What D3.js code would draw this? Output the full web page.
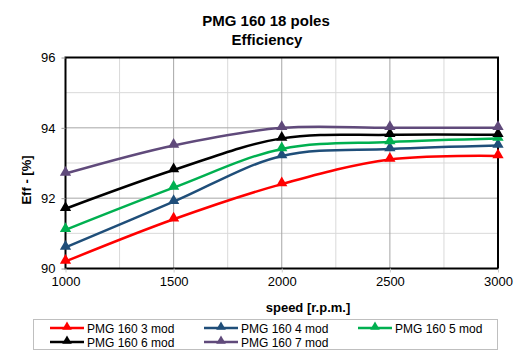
<!DOCTYPE html>
<html><head><meta charset="utf-8">
<script src="https://cdn.jsdelivr.net/npm/d3@7"></script>
<style>body{margin:0;background:#fff;}svg{display:block;font-family:"Liberation Sans",Arial,sans-serif;}</style>
</head><body>
<svg id="c" width="529" height="355"></svg>
<script>
const speeds = [1000, 1500, 2000, 2500, 3000];
const mod3 = [90.2, 91.4, 92.4, 93.1, 93.2];
const mod4 = [90.6, 91.9, 93.2, 93.4, 93.5];
const mod5 = [91.1, 92.3, 93.4, 93.6, 93.7];
const mod6 = [91.7, 92.8, 93.7, 93.8, 93.8];
const mod7 = [92.7, 93.5, 94.0, 94.0, 94.0];
const seriesNames = ["PMG 160 3 mod", "PMG 160 4 mod", "PMG 160 5 mod", "PMG 160 6 mod", "PMG 160 7 mod"];
const seriesColors = ["#FF0000", "#1F4E79", "#00B050", "#000000", "#604A7B"];
const xTicks = [1000, 1500, 2000, 2500, 3000];
const yTicks = [90, 92, 94, 96];
const titleLines = ["PMG 160 18 poles", "Efficiency"];

const series = [mod3, mod4, mod5, mod6, mod7].map((v, i) => ({name: seriesNames[i], color: seriesColors[i], values: v}));

const svg = d3.select("#c");
const L = 65.5, R = 498, T = 57.5, B = 268.5;
const x = d3.scaleLinear().domain([1000, 3000]).range([L, R]);
const y = d3.scaleLinear().domain([90, 96]).range([B, T]);

// grid minor
const minorX = d3.range(1250, 3000, 500);
const minorY = [91, 93, 95];
svg.append("g").selectAll("line").data(minorX).join("line")
  .attr("x1", d => x(d)).attr("x2", d => x(d)).attr("y1", T).attr("y2", B)
  .attr("stroke", "#d9d9d9").attr("stroke-width", 1);
svg.append("g").selectAll("line").data(minorY).join("line")
  .attr("x1", L).attr("x2", R).attr("y1", d => y(d)).attr("y2", d => y(d))
  .attr("stroke", "#d9d9d9").attr("stroke-width", 1);
// grid major
svg.append("g").selectAll("line").data([1500, 2000, 2500]).join("line")
  .attr("x1", d => x(d)).attr("x2", d => x(d)).attr("y1", T).attr("y2", B)
  .attr("stroke", "#a6a6a6").attr("stroke-width", 1);
svg.append("g").selectAll("line").data([92, 94]).join("line")
  .attr("x1", L).attr("x2", R).attr("y1", d => y(d)).attr("y2", d => y(d))
  .attr("stroke", "#a6a6a6").attr("stroke-width", 1);

// plot border
svg.append("rect").attr("x", L).attr("y", T).attr("width", R - L).attr("height", B - T)
  .attr("fill", "none").attr("stroke", "#000").attr("stroke-width", 2);

// axes
const yAxis = d3.axisLeft(y).tickValues(yTicks).tickSize(4).tickPadding(6).tickFormat(d3.format("d"));
const gy = svg.append("g").attr("transform", `translate(${L},0)`).call(yAxis);
gy.select(".domain").remove();
gy.selectAll(".tick line").attr("stroke", "#999");
gy.selectAll("text").attr("font-size", 13).attr("fill", "#000").attr("font-family", "Liberation Sans, Arial, sans-serif");

const xAxis = d3.axisBottom(x).tickValues(xTicks).tickSize(4).tickPadding(4).tickFormat(d3.format("d"));
const gx = svg.append("g").attr("transform", `translate(0,${B})`).call(xAxis);
gx.select(".domain").remove();
gx.selectAll(".tick line").attr("stroke", "#ccc");
gx.selectAll("text").attr("font-size", 13).attr("fill", "#000").attr("font-family", "Liberation Sans, Arial, sans-serif");

// titles
svg.append("text").attr("x", 266).attr("y", 26).attr("text-anchor", "middle")
  .attr("font-size", 15).attr("font-weight", "bold").text(titleLines[0]);
svg.append("text").attr("x", 267).attr("y", 45).attr("text-anchor", "middle")
  .attr("font-size", 15).attr("font-weight", "bold").text(titleLines[1]);
svg.append("text").attr("x", 308).attr("y", 312).attr("text-anchor", "middle")
  .attr("font-size", 13).attr("font-weight", "bold").text("speed [r.p.m.]");
svg.append("text").attr("transform", "translate(31,180) rotate(-90)").attr("text-anchor", "middle")
  .attr("font-size", 13).attr("font-weight", "bold").text("Eff - [%]");

// lines
const line = d3.line().x((d, i) => x(speeds[i])).y(d => y(d)).curve(d3.curveCatmullRom.alpha(0.5));
const tri = d3.symbol().type(d3.symbolTriangle).size(55);
const g = svg.append("g");
series.forEach(s => {
  g.append("path").attr("d", line(s.values)).attr("fill", "none").attr("stroke", s.color).attr("stroke-width", 2.5);
});
series.forEach(s => {
  g.selectAll(null).data(s.values).join("path")
    .attr("d", tri).attr("transform", (d, i) => `translate(${x(speeds[i])},${y(d) - 1})`)
    .attr("fill", s.color);
});

// legend
svg.append("rect").attr("x", 33.5).attr("y", 319.5).attr("width", 464).attr("height", 30)
  .attr("fill", "#fff").attr("stroke", "#bfbfbf").attr("stroke-width", 1);
const legX = [50, 204, 358], legY = [328, 342];
const lg = svg.append("g").selectAll("g").data(series).join("g")
  .attr("transform", (d, i) => `translate(${legX[i % 3]},${legY[Math.floor(i / 3)]})`);
lg.append("line").attr("x1", 0).attr("x2", 34).attr("y1", 0).attr("y2", 0)
  .attr("stroke", d => d.color).attr("stroke-width", 2.5);
lg.append("path").attr("d", d3.symbol().type(d3.symbolTriangle).size(40)).attr("transform", "translate(17,-1)")
  .attr("fill", d => d.color);
lg.append("text").attr("x", 37).attr("y", 4.5).attr("font-size", 12).text(d => d.name);
</script>
</body></html>
